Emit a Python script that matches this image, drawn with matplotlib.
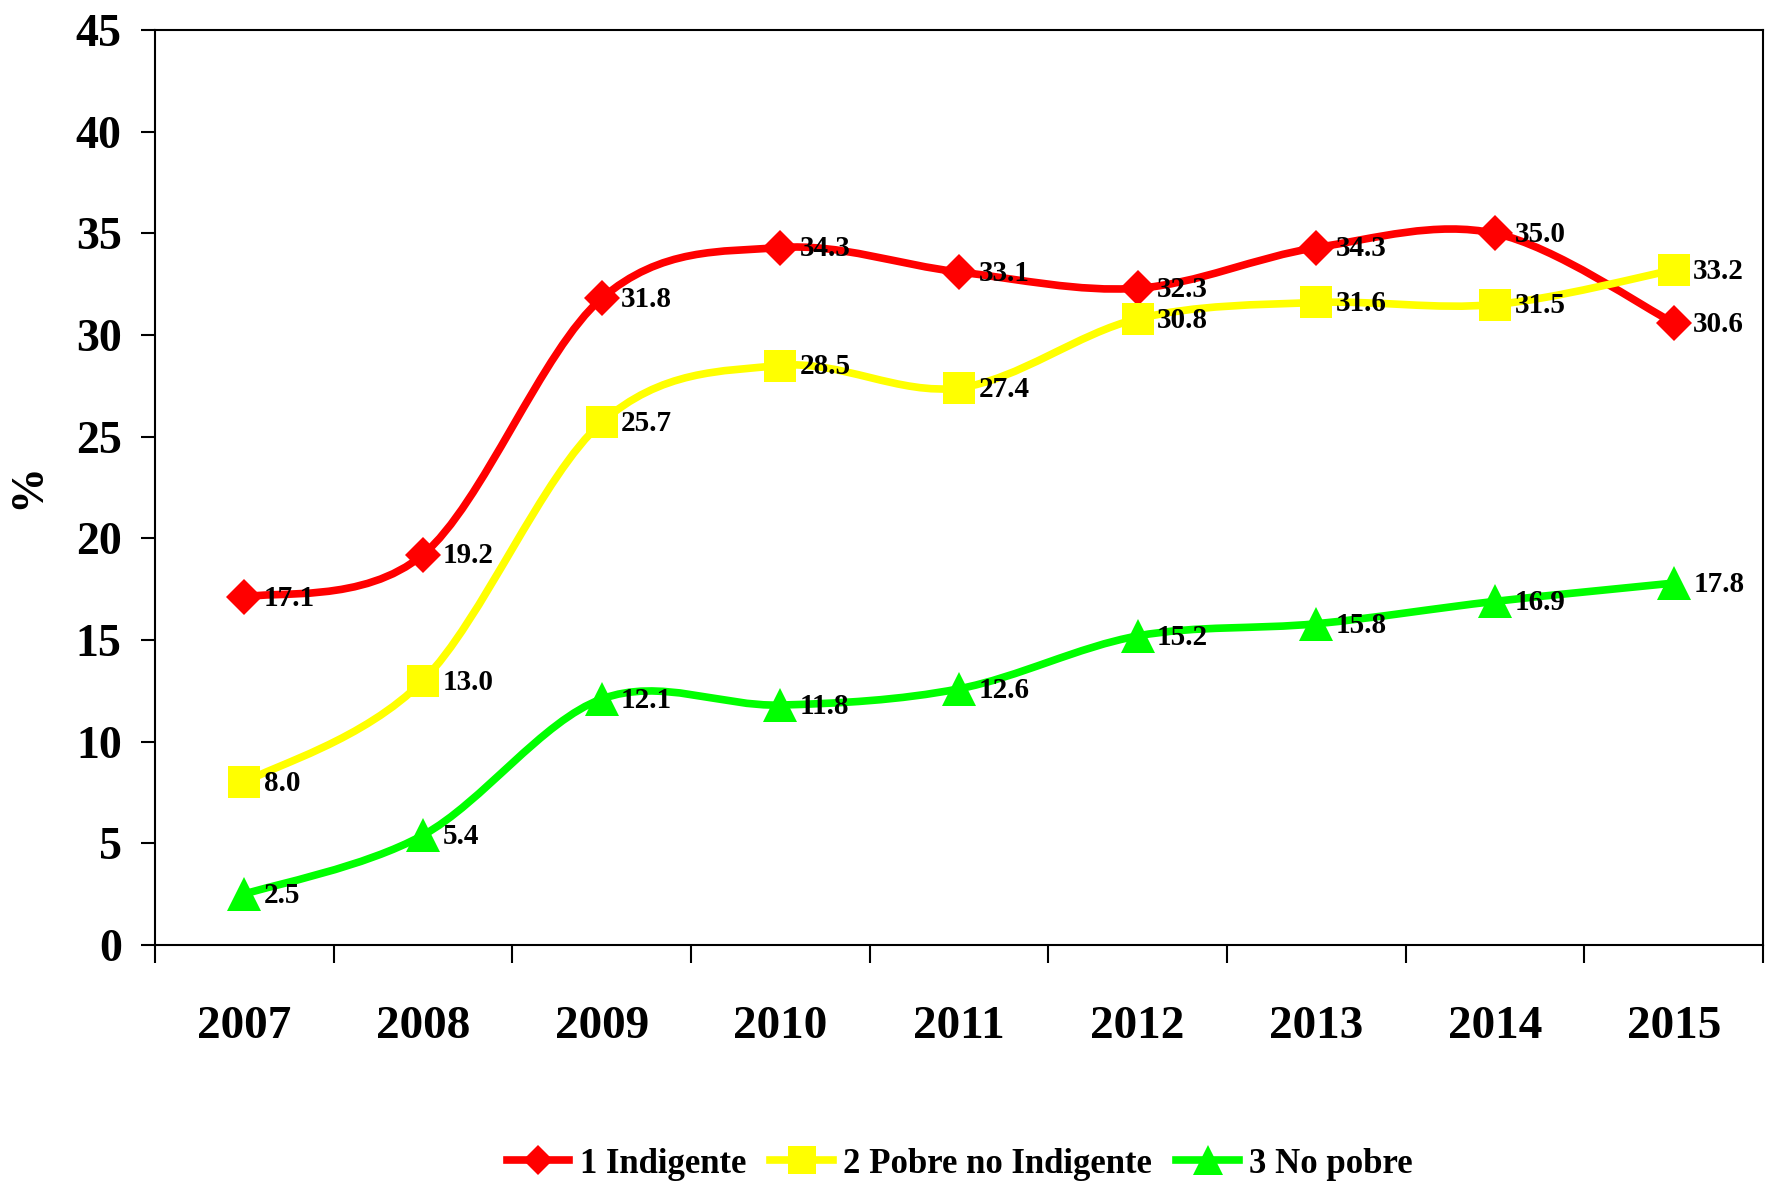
import matplotlib
matplotlib.use("Agg")
import matplotlib.pyplot as plt
from matplotlib.path import Path
from matplotlib.patches import PathPatch
from matplotlib.lines import Line2D

years = ["2007", "2008", "2009", "2010", "2011", "2012", "2013", "2014", "2015"]
indigente = [17.1, 19.2, 31.8, 34.3, 33.1, 32.3, 34.3, 35.0, 30.6]
pobre_no_ind = [8.0, 13.0, 25.7, 28.5, 27.4, 30.8, 31.6, 31.5, 33.2]
no_pobre = [2.5, 5.4, 12.1, 11.8, 12.6, 15.2, 15.8, 16.9, 17.8]
names = ["1 Indigente", "2 Pobre no Indigente", "3 No pobre"]

plt.rcParams['font.family'] = ['Liberation Serif', 'DejaVu Serif']
plt.rcParams['font.weight'] = 'bold'


def smooth_path(xs, ys, t=1/6):
    # excel-style smoothed line: catmull-rom as cubic bezier
    verts = [(xs[0], ys[0])]
    codes = [Path.MOVETO]
    n = len(xs)
    for i in range(n - 1):
        x0, y0 = (xs[i-1], ys[i-1]) if i > 0 else (xs[i], ys[i])
        x1, y1 = xs[i], ys[i]
        x2, y2 = xs[i+1], ys[i+1]
        x3, y3 = (xs[i+2], ys[i+2]) if i + 2 < n else (x2, y2)
        c1 = (x1 + (x2 - x0) * t, y1 + (y2 - y0) * t)
        c2 = (x2 - (x3 - x1) * t, y2 - (y3 - y1) * t)
        verts += [c1, c2, (x2, y2)]
        codes += [Path.CURVE4] * 3
    return Path(verts, codes)


fig = plt.figure(figsize=(17.71, 11.83), dpi=100)
ax = fig.add_axes([0.0875, 0.2012, 0.908, 0.7734])

xs = list(range(len(years)))
series = [
    (indigente, "#FF0000", "D", 18),
    (pobre_no_ind, "#FFFF00", "s", 23),
    (no_pobre, "#00FF00", "^", 25),
]

handles = []
for (vals, col, mk, ms), name in zip(series, names):
    ax.add_patch(PathPatch(smooth_path(xs, vals), facecolor="none",
                           edgecolor=col, lw=5.5, capstyle="round", zorder=2))
    ax.plot(xs, vals, linestyle="none", marker=mk, ms=ms, color=col,
            markeredgewidth=0, zorder=3)
    for x, v in zip(xs, vals):
        ax.annotate("%.1f" % v, (x, v), xytext=(14, -1), textcoords="offset points",
                    ha="left", va="center", fontsize=21, fontweight="bold", zorder=4)
    handles.append(Line2D([], [], color=col, lw=5.5, marker=mk, ms=ms * 0.85,
                          markeredgewidth=0))

ax.set_xlim(-0.5, len(years) - 0.5)
ax.set_ylim(0, 45)
ax.set_yticks(range(0, 46, 5))
ax.set_xticks([i - 0.5 for i in range(len(years) + 1)])
ax.set_xticklabels([])
ax.set_xticks(xs, minor=True)
ax.set_xticklabels(years, minor=True)
ax.tick_params(axis="x", which="major", direction="out", length=13, width=1.5)
ax.tick_params(axis="x", which="minor", length=0, pad=44, labelsize=34)
ax.tick_params(axis="y", direction="out", length=10, width=1.5, pad=14, labelsize=33)
for lab in ax.get_xticklabels(minor=True) + ax.get_yticklabels():
    lab.set_fontweight("bold")
for s in ax.spines.values():
    s.set_linewidth(1.5)

fig.text(28 / 1771, 0.589, "%", rotation=90, ha="center", va="center",
         fontsize=33, fontweight="bold")

fig.legend(handles, names, loc="center", bbox_to_anchor=(0.542, 0.016), ncol=3,
           frameon=False, handlelength=1.8, columnspacing=0.7,
           handletextpad=0.3, prop={"weight": "bold", "size": 25})

fig.savefig("out.png", dpi=100)
